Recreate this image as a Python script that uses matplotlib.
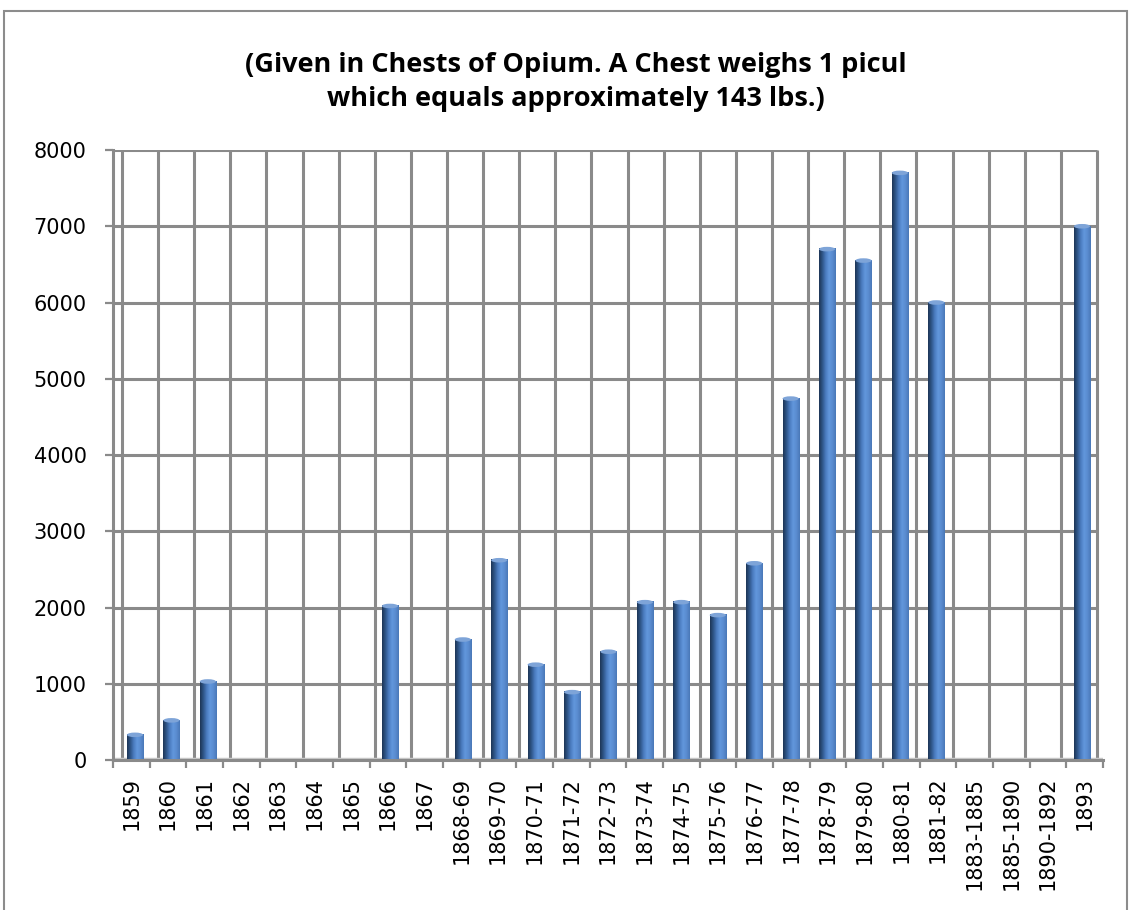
import numpy as np
import matplotlib.pyplot as plt
from matplotlib.colors import LinearSegmentedColormap
from matplotlib.patches import Rectangle, Ellipse

# --------------------------------------------------
# Data
# --------------------------------------------------

periods = ["1859", "1860", "1861", "1862", "1863", "1864", "1865", "1866",
           "1867", "1868-69", "1869-70", "1870-71", "1871-72", "1872-73",
           "1873-74", "1874-75", "1875-76", "1876-77", "1877-78", "1878-79",
           "1879-80", "1880-81", "1881-82", "1883-1885", "1885-1890",
           "1890-1892", "1893"]
chests = [330, 520, 1030, 0, 0, 0, 0, 2020,
          0, 1580, 2620, 1250, 890, 1420,
          2070, 2070, 1900, 2580, 4740, 6700,
          6550, 7700, 6000, 0, 0,
          0, 7000]
yticks = [0, 1000, 2000, 3000, 4000, 5000, 6000, 7000, 8000]

title = ("(Given in Chests of Opium. A Chest weighs 1 picul\n"
         "which equals approximately 143 lbs.)")

# --------------------------------------------------
# Style
# --------------------------------------------------

GRID = "#8a8a8a"
W, H = 1131, 910
fig = plt.figure(figsize=(W / 100, H / 100), dpi=100)

# axes box in pixels: x 113..1103, y 150..760
ax = fig.add_axes([113 / W, 1 - 760 / H, (1103 - 113) / W, (760 - 150) / H])
n = len(periods)
ax.set_xlim(-0.5, n - 0.5)
ax.set_ylim(0, 8000)

# slight perspective of the back wall (Excel 3-D look)
slot = (1103 - 113) / n
wall_x = [(122 + k * (1097 - 122) / n - 113) / slot - 0.5 for k in range(n + 1)]
bar_x = [(135 + k * (1082 - 135) / (n - 1) - 113) / slot - 0.5 for k in range(n)]

for gx in wall_x:
    ax.plot([gx, gx], [0, 8000], color=GRID, lw=2.2, zorder=1,
            solid_capstyle="butt")
for gy in yticks[1:]:
    ax.plot([-0.5, wall_x[-1]], [gy, gy], color=GRID, lw=2.2, zorder=1,
            solid_capstyle="butt")
# floor
ax.plot([-0.5, n - 0.5], [15, 15], color="#c8c8c8", lw=2.5, zorder=1)

# cylinder-ish gradient for the columns
cmap = LinearSegmentedColormap.from_list(
    "col", ["#1d3556", "#2f5689", "#4b7cc0", "#6297dc", "#5a8cd0", "#4a78b8"])
grad = np.linspace(0, 1, 64).reshape(1, -1)
bw = 0.44
for xc, v in zip(bar_x, chests):
    if v <= 0:
        continue
    ax.imshow(grad, cmap=cmap, aspect="auto", zorder=3,
              extent=(xc - bw / 2, xc + bw / 2, 10, v), interpolation="bilinear")
    ax.add_patch(Ellipse((xc, v), bw, 60, color="#7ea4d8", zorder=4, lw=0))

ax.set_xlim(-0.5, n - 0.5)
ax.set_ylim(0, 8000)

# --------------------------------------------------
# Axes and ticks
# --------------------------------------------------

for s in ["top", "right"]:
    ax.spines[s].set_visible(False)
for s in ["left", "bottom"]:
    ax.spines[s].set_color(GRID)
    ax.spines[s].set_linewidth(2.2)

ax.set_yticks(yticks)
ax.set_yticklabels([str(t) for t in yticks], fontsize=15,
                   family="DejaVu Sans")
ax.tick_params(axis="y", direction="out", length=6, width=1.6, color=GRID,
               pad=13)

ax.set_xticks(range(n))
ax.set_xticklabels(periods, rotation=90, fontsize=15,
                   family="DejaVu Sans")
ax.set_xticks([k - 0.5 for k in range(n + 1)], minor=True)
ax.tick_params(axis="x", which="major", length=0, pad=12)
ax.tick_params(axis="x", which="minor", direction="out", length=6,
               width=1.6, color=GRID)

# --------------------------------------------------
# Title and frame
# --------------------------------------------------

fig.text(576 / W, 1 - 82 / H, title, ha="center", va="center",
         fontsize=19.5, fontweight="bold", family="Open Sans", linespacing=1.4)

fig.add_artist(Rectangle((4 / W, -0.05), (1127 - 4) / W, 1.05 - 11 / H,
                         transform=fig.transFigure, fill=False,
                         edgecolor="#8c8c8c", lw=1.5))

plt.savefig("out.png", dpi=100)
plt.close()
